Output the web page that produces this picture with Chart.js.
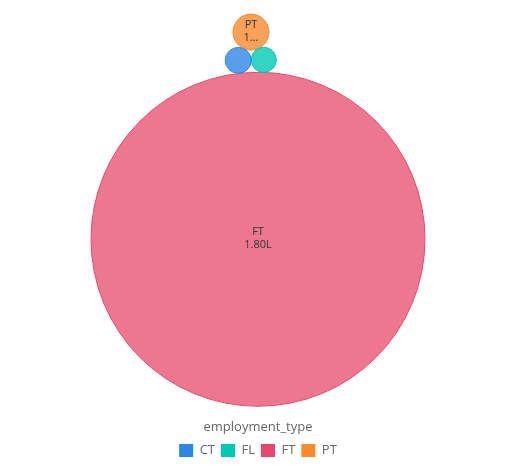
<!DOCTYPE html>
<html>
<head>
<meta charset="utf-8">
<script src="https://cdn.jsdelivr.net/npm/chart.js@4"></script>
<style>
  body { margin: 0; background: #fff; }
  canvas { display: block; }
</style>
</head>
<body>
<canvas id="bubble-chart" width="520" height="469"></canvas>
<script>
// packed bubble chart of employment_type

const categories = ['CT', 'FL', 'FT', 'PT'];
const values = [14000, 13500, 180000, 19400];
const solidColors = ['#2D87E2', '#00C9B1', '#E8496B', '#F58A2F'];
const fillColors = ['rgba(45,135,226,0.8)', 'rgba(0,201,177,0.8)', 'rgba(232,73,107,0.75)', 'rgba(245,138,47,0.8)'];

const maxRadius = 167;
const maxValue = Math.max(...values);
const radii = values.map(v => maxRadius * v / maxValue);

// indian style short numbers
function fmt(v) {
    if (v >= 1e7) return (v / 1e7).toFixed(2) + 'Cr';
    if (v >= 1e5) return (v / 1e5).toFixed(2) + 'L';
    if (v >= 1e3) return (v / 1e3).toFixed(2) + 'K';
    return String(v);
}

// circle tangent to a and b
function tangent(a, b, r, side) {
    const dx = b.x - a.x, dy = b.y - a.y;
    const d = Math.hypot(dx, dy);
    const da = a.r + r, db = b.r + r;
    const t = (da * da - db * db + d * d) / (2 * d);
    const h = Math.sqrt(Math.max(0, da * da - t * t));
    const ux = dx / d, uy = dy / d;
    return { x: a.x + t * ux - side * h * uy, y: a.y + t * uy + side * h * ux, r: r };
}

// layout: biggest in the middle, small ones stacked on top
const idx = {};
categories.forEach((c, i) => idx[c] = i);
const pos = [];
const tilt = 6.3 * Math.PI / 180;
pos[idx.FT] = { x: 0, y: 0, r: radii[idx.FT] };
const dCT = radii[idx.FT] + radii[idx.CT];
pos[idx.CT] = { x: -dCT * Math.sin(tilt), y: dCT * Math.cos(tilt), r: radii[idx.CT] };
pos[idx.FL] = tangent(pos[idx.FT], pos[idx.CT], radii[idx.FL], -1);
pos[idx.PT] = tangent(pos[idx.CT], pos[idx.FL], radii[idx.PT], 1);

const bounds = {
    x0: Math.min(...pos.map(p => p.x - p.r)),
    x1: Math.max(...pos.map(p => p.x + p.r)),
    y0: Math.min(...pos.map(p => p.y - p.r)),
    y1: Math.max(...pos.map(p => p.y + p.r))
};

// one data unit = one pixel, pack centred in chart area
const fitPack = {
    id: 'fitPack',
    afterLayout(chart) {
        const a = chart.chartArea;
        const cx = (bounds.x0 + bounds.x1) / 2, cy = (bounds.y0 + bounds.y1) / 2;
        const w = a.right - a.left, h = a.bottom - a.top;
        const xs = chart.scales.x, ys = chart.scales.y;
        xs.min = cx - w / 2; xs.max = cx + w / 2;
        ys.min = cy - h / 2; ys.max = cy + h / 2;
        xs.configure();
        ys.configure();
    }
};

const bubbleLabels = {
    id: 'bubbleLabels',
    afterDatasetsDraw(chart) {
        const ctx = chart.ctx;
        ctx.save();
        ctx.font = '11px "Open Sans", sans-serif';
        ctx.fillStyle = '#333';
        ctx.textAlign = 'center';
        ctx.textBaseline = 'middle';
        chart.data.datasets.forEach((ds, i) => {
            const el = chart.getDatasetMeta(i).data[0];
            const r = radii[i];
            if (r < 16) return;
            const maxW = r;
            let txt = fmt(values[i]);
            if (ctx.measureText(txt).width > maxW) {
                while (txt.length > 1 && ctx.measureText(txt + '…').width > maxW) txt = txt.slice(0, -1);
                txt = txt + '…';
            }
            ctx.fillText(ds.label, el.x, el.y - 7);
            ctx.fillText(txt, el.x, el.y + 6);
        });
        ctx.restore();
    }
};

new Chart(document.getElementById('bubble-chart'), {
    type: 'bubble',
    data: {
        datasets: categories.map((c, i) => ({
            label: c,
            data: [{ x: pos[i].x, y: pos[i].y, r: radii[i] }],
            backgroundColor: fillColors[i],
            borderColor: solidColors[i],
            borderWidth: 1,
            clip: false
        }))
    },
    options: {
        responsive: false,
        animation: false,
        layout: { padding: { top: 6, right: 4, bottom: 2, left: 0 }, autoPadding: false },
        scales: {
            x: { display: false },
            y: { display: false }
        },
        plugins: {
            tooltip: { enabled: false },
            legend: {
                position: 'bottom',
                title: {
                    display: true,
                    text: 'employment_type',
                    color: '#666',
                    font: { family: '"Open Sans", sans-serif', size: 13 },
                    padding: { top: 6, bottom: 2 }
                },
                labels: {
                    boxWidth: 14,
                    boxHeight: 13,
                    padding: 6,
                    color: '#333',
                    font: { family: '"Open Sans", sans-serif', size: 13 },
                    generateLabels: () => categories.map((c, i) => ({
                        text: c,
                        fillStyle: solidColors[i],
                        strokeStyle: solidColors[i],
                        lineWidth: 0,
                        hidden: false,
                        datasetIndex: i
                    }))
                }
            }
        }
    },
    plugins: [fitPack, bubbleLabels]
});
</script>
</body>
</html>
